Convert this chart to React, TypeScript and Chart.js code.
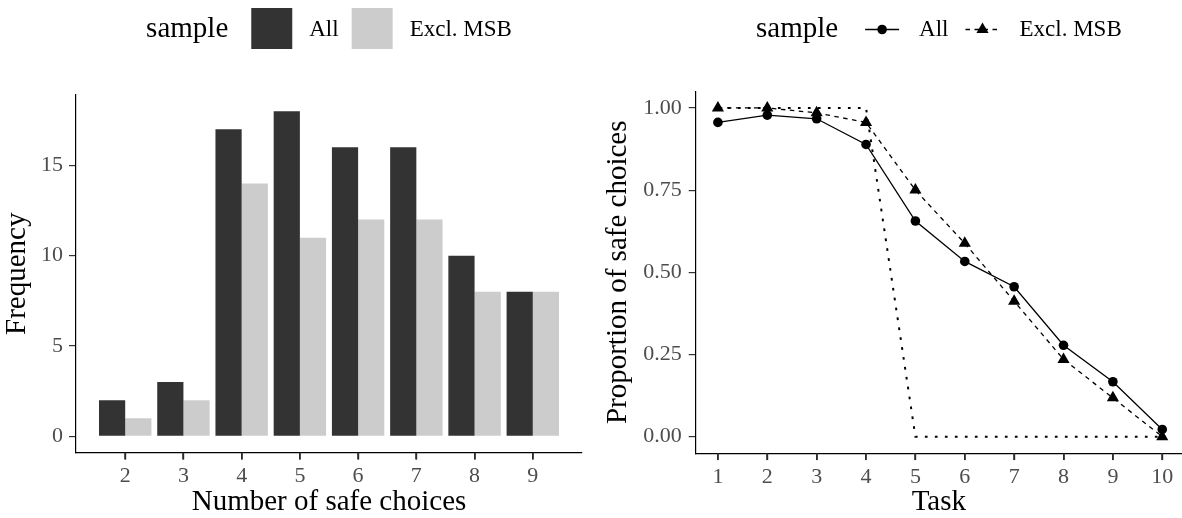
import React, { useEffect, useRef } from 'react';
import { Chart, registerables } from 'chart.js';

Chart.register(...registerables);

// ---------- data ----------
const safeChoices = [2, 3, 4, 5, 6, 7, 8, 9];
const freqAll = [2, 3, 17, 18, 16, 16, 10, 8];
const freqExcl = [1, 2, 14, 11, 12, 12, 8, 8];
const freqTicks = [0, 5, 10, 15];

const tasks = [1, 2, 3, 4, 5, 6, 7, 8, 9, 10];
const propAll = [0.956, 0.978, 0.967, 0.889, 0.656, 0.533, 0.456, 0.278, 0.167, 0.022];
const propExcl = [1.0, 1.0, 0.985, 0.956, 0.75, 0.588, 0.412, 0.235, 0.118, 0.0];
const riskNeutral = [1, 1, 1, 1, 0, 0, 0, 0, 0, 0];
const propTicks = [0, 0.25, 0.5, 0.75, 1];

const legendTitle = 'sample';
const sampleLabels = ['All', 'Excl. MSB'];

// ---------- styles ----------
const SERIF = "'Liberation Serif', 'Times New Roman', serif";
const TICK_COLOR = '#4D4D4D';
const TITLE_SIZE = 29;
const TICK_SIZE = 22;
const LABEL_SIZE = 23;
const TICK_LEN = 7;

const legendPlugin = {
  id: 'sampleLegend',
  afterDraw(chart: any, _args: any, opts: any) {
    const { ctx, chartArea } = chart;
    const kind = opts.kind;
    const cx = (chartArea.left + chartArea.right) / 2;
    const titleFont = `${TITLE_SIZE}px ${SERIF}`;
    const labelFont = `${LABEL_SIZE}px ${SERIF}`;
    ctx.save();
    ctx.font = titleFont;
    const wT = ctx.measureText(legendTitle).width;
    ctx.font = labelFont;
    const wL = sampleLabels.map((l) => ctx.measureText(l).width);
    const sp = kind === 'box'
      ? { gT: 23, kW: 41, gK: 17, gL: 13 }
      : { gT: 27, kW: 34, gK: 20, gL: 17 };
    const total = wT + sp.gT + 2 * (sp.kW + sp.gK) + wL[0] + sp.gL + wL[1];
    let x = cx - total / 2;
    ctx.textAlign = 'left';
    ctx.textBaseline = 'alphabetic';
    ctx.fillStyle = '#000';
    ctx.font = titleFont;
    ctx.fillText(legendTitle, x, 37);
    x += wT + sp.gT;
    sampleLabels.forEach((lab, i) => {
      const ds = chart.data.datasets[i];
      if (kind === 'box') {
        ctx.fillStyle = ds.backgroundColor;
        ctx.fillRect(x, 8, sp.kW, 41);
      } else {
        const yc = 29.5;
        ctx.strokeStyle = ds.borderColor;
        ctx.lineWidth = ds.borderWidth;
        ctx.setLineDash(ds.borderDash || []);
        ctx.beginPath();
        ctx.moveTo(x, yc);
        ctx.lineTo(x + sp.kW, yc);
        ctx.stroke();
        ctx.setLineDash([]);
        ctx.fillStyle = ds.pointBackgroundColor;
        const px = x + sp.kW / 2;
        const r = ds.pointRadius;
        ctx.beginPath();
        if (ds.pointStyle === 'triangle') {
          let rad = 0;
          ctx.moveTo(px + Math.sin(rad) * r, yc - Math.cos(rad) * r);
          rad += (2 * Math.PI) / 3;
          ctx.lineTo(px + Math.sin(rad) * r, yc - Math.cos(rad) * r);
          rad += (2 * Math.PI) / 3;
          ctx.lineTo(px + Math.sin(rad) * r, yc - Math.cos(rad) * r);
          ctx.closePath();
        } else {
          ctx.arc(px, yc, r, 0, Math.PI * 2);
        }
        ctx.fill();
      }
      x += sp.kW + sp.gK;
      ctx.fillStyle = '#000';
      ctx.font = labelFont;
      ctx.fillText(lab, x, 36);
      x += wL[i] + sp.gL;
    });
    ctx.restore();
  },
};

// tick marks of the x scale, placed with the scale's own pixel mapping
const xTickMarks = {
  id: 'xTickMarks',
  afterDraw(chart: any) {
    const s = chart.scales.x;
    const ctx = chart.ctx;
    ctx.save();
    ctx.fillStyle = '#2a2a2a';
    s.ticks.forEach((_t: any, i: number) => {
      const px = s.getPixelForTick(i);
      ctx.fillRect(Math.round(px) - 0.8, s.top, 1.6, TICK_LEN);
    });
    ctx.restore();
  },
};

function axisCommon() {
  return {
    grid: { display: true, offset: false, drawOnChartArea: false, drawTicks: true, tickLength: TICK_LEN, color: '#333333', tickColor: '#333333', lineWidth: 1.2 },
    border: { display: true, color: '#000000', width: 1.2 },
  };
}

function fixHeight(h: number) {
  return (s: any) => { s.height = h; s.paddingLeft = 0; s.paddingRight = 0; };
}
function fixWidth(w: number) {
  return (s: any) => { s.width = w; s.paddingTop = 0; s.paddingBottom = 0; };
}

export default function App() {
  const leftRef = useRef<HTMLCanvasElement>(null);
  const rightRef = useRef<HTMLCanvasElement>(null);

  useEffect(() => {
    const barChart = new Chart(leftRef.current as HTMLCanvasElement, {
      type: 'bar',
      data: {
        datasets: [
          {
            label: sampleLabels[0],
            data: safeChoices.map((c, i) => ({ x: c, y: freqAll[i] })),
            backgroundColor: '#333333',
            borderWidth: 0,
          },
          {
            label: sampleLabels[1],
            data: safeChoices.map((c, i) => ({ x: c, y: freqExcl[i] })),
            backgroundColor: '#CCCCCC',
            borderWidth: 0,
          },
        ],
      },
      options: {
        responsive: false,
        animation: false,
        events: [],
        layout: { autoPadding: false, padding: { top: 95, left: 0, right: 9, bottom: 0 } },
        datasets: { bar: { barPercentage: 1, categoryPercentage: 0.9 } },
        plugins: {
          legend: { display: false },
          tooltip: { enabled: false },
          title: { display: false },
          sampleLegend: { kind: 'box' },
        } as any,
        scales: {
          x: {
            type: 'linear',
            min: 1.155,
            max: 9.845,
            offset: false,
            afterBuildTicks: (s: any) => { s.ticks = safeChoices.map((v) => ({ value: v })); },
            afterFit: fixHeight(65.5),
            ...axisCommon(),
            ticks: { color: TICK_COLOR, font: { family: SERIF, size: TICK_SIZE }, padding: 4, maxRotation: 0, autoSkip: false, callback: (v: any) => String(v) },
            title: { display: true, text: 'Number of safe choices', color: '#000', font: { family: SERIF, size: TITLE_SIZE, lineHeight: 1 }, padding: { top: 0, bottom: 1 } },
          },
          y: {
            type: 'linear',
            min: -0.9,
            max: 18.9,
            afterBuildTicks: (s: any) => { s.ticks = freqTicks.map((v) => ({ value: v })); },
            afterFit: fixWidth(76),
            ...axisCommon(),
            ticks: { color: TICK_COLOR, font: { family: SERIF, size: TICK_SIZE }, padding: 6, autoSkip: false, callback: (v: any) => String(v) },
            title: { display: true, text: 'Frequency', color: '#000', font: { family: SERIF, size: TITLE_SIZE, lineHeight: 1 }, padding: { top: 3, bottom: 0 } },
          },
        } as any,
      },
      plugins: [legendPlugin, xTickMarks],
    } as any);

    const lineChart = new Chart(rightRef.current as HTMLCanvasElement, {
      type: 'line',
      data: {
        datasets: [
          {
            label: sampleLabels[0],
            data: tasks.map((t, i) => ({ x: t, y: propAll[i] })),
            borderColor: '#000000',
            borderWidth: 1.3,
            pointStyle: 'circle',
            pointRadius: 4.8,
            pointBackgroundColor: '#000000',
            pointBorderWidth: 0,
            tension: 0,
          },
          {
            label: sampleLabels[1],
            data: tasks.map((t, i) => ({ x: t, y: propExcl[i] })),
            borderColor: '#000000',
            borderWidth: 1.3,
            borderDash: [4.5, 4.5],
            pointStyle: 'triangle',
            pointRadius: 7,
            pointBackgroundColor: '#000000',
            pointBorderWidth: 0,
            tension: 0,
          },
          {
            label: 'Risk neutral',
            data: tasks.map((t, i) => ({ x: t, y: riskNeutral[i] })),
            borderColor: '#000000',
            borderWidth: 2,
            borderDash: [2.7, 7.3],
            pointRadius: 0,
            tension: 0,
          },
        ],
      },
      options: {
        responsive: false,
        animation: false,
        events: [],
        layout: { autoPadding: false, padding: { top: 91.5, left: 0, right: 0, bottom: 0 } },
        plugins: {
          legend: { display: false },
          tooltip: { enabled: false },
          title: { display: false },
          sampleLegend: { kind: 'line' },
        } as any,
        scales: {
          x: {
            type: 'linear',
            min: 0.55,
            max: 10.4,
            offset: false,
            afterBuildTicks: (s: any) => { s.ticks = tasks.map((v) => ({ value: v })); },
            afterFit: fixHeight(64.9),
            ...axisCommon(),
            ticks: { color: TICK_COLOR, font: { family: SERIF, size: TICK_SIZE }, padding: 4, maxRotation: 0, autoSkip: false, callback: (v: any) => String(v) },
            title: { display: true, text: 'Task', color: '#000', font: { family: SERIF, size: TITLE_SIZE, lineHeight: 1 }, padding: { top: 0, bottom: 1 } },
          },
          y: {
            type: 'linear',
            min: -0.05,
            max: 1.05,
            afterBuildTicks: (s: any) => { s.ticks = propTicks.map((v) => ({ value: v })); },
            afterFit: fixWidth(104.7),
            ...axisCommon(),
            ticks: { color: TICK_COLOR, font: { family: SERIF, size: TICK_SIZE }, padding: 7, autoSkip: false, callback: (v: any) => Number(v).toFixed(2) },
            title: { display: true, text: 'Proportion of safe choices', color: '#000', font: { family: SERIF, size: TITLE_SIZE, lineHeight: 1 }, padding: { top: 12.9, bottom: 0 } },
          },
        } as any,
      },
      plugins: [legendPlugin, xTickMarks],
    } as any);

    return () => {
      barChart.destroy();
      lineChart.destroy();
    };
  }, []);

  return (
    <div style={{ position: 'fixed', left: 0, top: 0, width: 1182, height: 518, background: '#ffffff', overflow: 'hidden' }}>
      <div style={{ position: 'absolute', left: 0, top: 0, width: 591, height: 518 }}>
        <canvas ref={leftRef} width={591} height={518} style={{ width: 591, height: 518, display: 'block' }} />
      </div>
      <div style={{ position: 'absolute', left: 591, top: 0, width: 591, height: 518 }}>
        <canvas ref={rightRef} width={591} height={518} style={{ width: 591, height: 518, display: 'block' }} />
      </div>
    </div>
  );
}
